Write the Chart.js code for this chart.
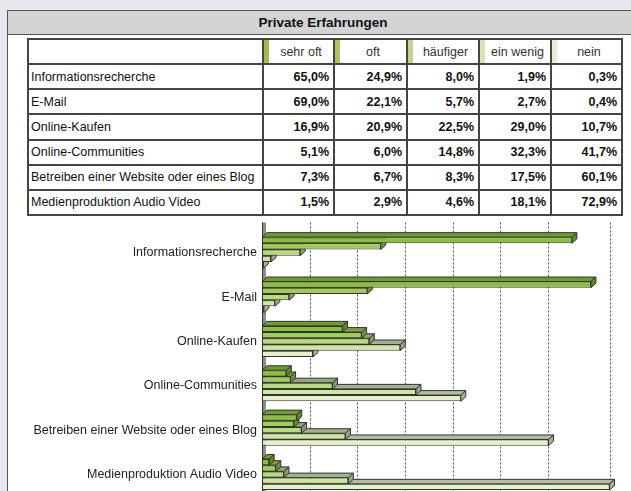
<!DOCTYPE html>
<html>
<head>
<meta charset="utf-8">
<script src="https://cdn.jsdelivr.net/npm/chart.js@4.4.1/dist/chart.umd.min.js"></script>
<style>
  html, body { margin: 0; padding: 0; width: 631px; height: 491px; overflow: hidden;
    background: #e6e6ee; font-family: "Liberation Sans", Arial, sans-serif; }
  #panel { position: absolute; left: 7px; top: 10px; width: 632px; height: 500px;
    background: #fff; border: 1px solid #555; box-sizing: border-box; }
  #title { position: absolute; left: 0; top: 0; right: 0; height: 23px; background: #d4d4d4;
    border-bottom: 1px solid #555; font-weight: bold; font-size: 13.5px; color: #111;
    text-align: center; line-height: 23px; }
  #tbl { position: absolute; left: 27px; top: 38px; width: 594px; height: 178px;
    border-collapse: collapse; table-layout: fixed; font-size: 12.5px; color: #111; }
  #tbl td, #tbl th { border: 2px solid #444; padding: 0 4px; height: 23px; white-space: nowrap; overflow: hidden; }
  #tbl th { font-weight: normal; text-align: center; color: #333; padding-left: 9px; }
  #tbl td.v { font-weight: bold; text-align: right; }
  #tbl td.c { padding-left: 2px; }
  #chart { position: absolute; left: 0; top: 200px; }
</style>
</head>
<body>
<div id="panel"><div id="title">Private Erfahrungen</div></div>
<table id="tbl"></table>
<canvas id="chart" width="631" height="310"></canvas>
<script>
// ---------- Daten ----------
const CATEGORIES = [
  'Informationsrecherche',
  'E-Mail',
  'Online-Kaufen',
  'Online-Communities',
  'Betreiben einer Website oder eines Blog',
  'Medienproduktion Audio Video',
];
const SERIES = ['sehr oft', 'oft', 'häufiger', 'ein wenig', 'nein'];

const SEHR_OFT  = [65.0, 69.0, 16.9,  5.1,  7.3,  1.5];
const OFT       = [24.9, 22.1, 20.9,  6.0,  6.7,  2.9];
const HAEUFIGER = [ 8.0,  5.7, 22.5, 14.8,  8.3,  4.6];
const EIN_WENIG = [ 1.9,  2.7, 29.0, 32.3, 17.5, 18.1];
const NEIN      = [ 0.3,  0.4, 10.7, 41.7, 60.1, 72.9];
const VALUES = [SEHR_OFT, OFT, HAEUFIGER, EIN_WENIG, NEIN];

// Gitterlinien (x-Achse in %), letzte Linie = rechte Kante
const X_GRID = [0, 10, 20, 30, 40, 50, 60];
const X_MAX = 73;

// ---------- Farben ----------
const FRONT_COLORS = ['#8cbf3c', '#a0cd57', '#b8da7a', '#cfe6a3', '#e5f0c9'];
const TOP_COLORS   = ['#6f9c30', '#7f9e46', '#93a877', '#a2b28f', '#b2bda2'];
const SIDE_COLORS  = ['#5e8a26', '#71903c', '#879b6a', '#96a685', '#a6b198'];
const STRIP_COLORS = ['#a8b64a', '#b4bf62', '#c9d18e', '#dbe2b6', '#e9ecd6'];
const EDGE = '#333';
const DX = 5, DY = 4.5;   // 3D-Tiefe

// ---------- Tabelle ----------
const fmt = (v) => v.toFixed(1).replace('.', ',') + '%';
const tbl = document.getElementById('tbl');
let html = '<colgroup><col style="width:235px">' +
  [71, 73, 72, 72, 71].map(w => `<col style="width:${w}px">`).join('') + '</colgroup>';
html += '<tr><th></th>' + SERIES.map((s, i) =>
  `<th style="box-shadow: inset 5px 0 0 ${STRIP_COLORS[i]}">${s}</th>`).join('') + '</tr>';
CATEGORIES.forEach((c, r) => {
  html += `<tr><td class="c">${c}</td>` +
    VALUES.map(arr => `<td class="v">${fmt(arr[r])}</td>`).join('') + '</tr>';
});
tbl.innerHTML = html;

// ---------- 3D-Balken Plugin ----------
function poly(ctx, pts, fill) {
  ctx.beginPath();
  ctx.moveTo(pts[0][0], pts[0][1]);
  for (let k = 1; k < pts.length; k++) ctx.lineTo(pts[k][0], pts[k][1]);
  ctx.closePath();
  ctx.fillStyle = fill;
  ctx.fill();
  ctx.stroke();
}

const bar3d = {
  id: 'bar3d',
  beforeDatasetsDraw(chart) {
    const { ctx, chartArea: a, scales: { x } } = chart;
    ctx.save();
    // linke Seitenwand
    ctx.fillStyle = '#8e8e8e';
    ctx.fillRect(a.left, a.top - 8, DX - 1, a.bottom - a.top + 8);
    // gestrichelte Gitterlinien
    ctx.strokeStyle = '#555';
    ctx.lineWidth = 1;
    ctx.setLineDash([2, 2]);
    [...X_GRID, X_MAX].forEach(v => {
      const px = Math.round(x.getPixelForValue(v)) + 0.5;
      ctx.beginPath();
      ctx.moveTo(px, a.top - 8);
      ctx.lineTo(px, chart.height);
      ctx.stroke();
    });
    ctx.setLineDash([]);
    // Achsenlinie
    ctx.strokeStyle = '#333';
    const px0 = Math.round(x.getPixelForValue(0)) + 0.5;
    ctx.beginPath();
    ctx.moveTo(px0, a.top - 8);
    ctx.lineTo(px0, chart.height);
    ctx.stroke();
    ctx.restore();
  },
  afterDatasetDraw(chart, args) {
    const i = args.index;
    const ctx = chart.ctx;
    ctx.save();
    ctx.strokeStyle = EDGE;
    ctx.lineWidth = 1;
    ctx.lineJoin = 'round';
    args.meta.data.forEach(bar => {
      const { x, y, base, height } = bar.getProps(['x', 'y', 'base', 'height'], true);
      const t = y - height / 2, b = y + height / 2, l = base, r = x;
      poly(ctx, [[l, t], [l + DX, t - DY], [r + DX, t - DY], [r, t]], TOP_COLORS[i]);
      poly(ctx, [[r, t], [r + DX, t - DY], [r + DX, b - DY], [r, b]], SIDE_COLORS[i]);
    });
    ctx.restore();
  },
};

// ---------- Chart ----------
new Chart(document.getElementById('chart'), {
  type: 'bar',
  data: {
    labels: CATEGORIES,
    datasets: SERIES.map((s, i) => ({
      label: s,
      data: VALUES[i],
      backgroundColor: FRONT_COLORS[i],
      borderColor: EDGE,
      borderWidth: 1,
      borderSkipped: false,
      categoryPercentage: 0.7,
      barPercentage: 1,
    })),
  },
  options: {
    indexAxis: 'y',
    responsive: false,
    animation: false,
    layout: { padding: { left: 0, right: 21, top: 30.5, bottom: 13.3 } },
    plugins: { legend: { display: false }, tooltip: { enabled: false } },
    scales: {
      x: { display: false, min: 0, max: X_MAX },
      y: {
        grid: { display: false, drawTicks: false },
        border: { display: false },
        ticks: {
          color: '#222',
          padding: 5,
          font: { size: 12.5, family: '"Liberation Sans", Arial, sans-serif' },
        },
        afterFit: (s) => { s.width = 262; },
      },
    },
  },
  plugins: [bar3d],
});
</script>
</body>
</html>
